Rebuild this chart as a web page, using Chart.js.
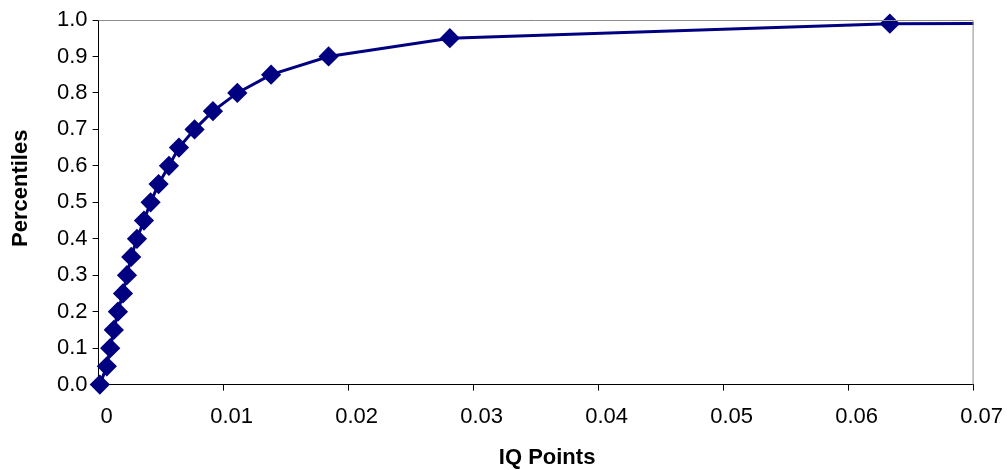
<!DOCTYPE html>
<html>
<head>
<meta charset="utf-8">
<script src="https://cdn.jsdelivr.net/npm/chart.js@4"></script>
<style>
  html, body { margin: 0; padding: 0; background: #fff; }
  #wrap { width: 1008px; height: 470px; }
</style>
</head>
<body>
<div id="wrap"><canvas id="myChart" width="1008" height="470"></canvas></div>
<script>
// IQ points (x) against percentiles (y)
var iqPoints = [0.0001, 0.00066, 0.00093, 0.00122, 0.00155, 0.00195, 0.00227, 0.00261, 0.00307,
                0.00363, 0.00416, 0.0048, 0.00563, 0.00643, 0.00768, 0.00915, 0.0111, 0.0138,
                0.0184, 0.0281, 0.0633, 0.2];
var percentiles = [0.0, 0.05, 0.10, 0.15, 0.20, 0.25, 0.30, 0.35, 0.40,
                   0.45, 0.50, 0.55, 0.60, 0.65, 0.70, 0.75, 0.80, 0.85,
                   0.90, 0.95, 0.99, 0.992];
var xTicks = [0, 0.01, 0.02, 0.03, 0.04, 0.05, 0.06, 0.07];
var yTicks = [0, 0.1, 0.2, 0.3, 0.4, 0.5, 0.6, 0.7, 0.8, 0.9, 1.0];
var xTitle = 'IQ Points';
var yTitle = 'Percentiles';

var points = iqPoints.map(function(x, i){ return {x: x, y: percentiles[i]}; });

// grey frame on top and right of plot area, plus the two axis titles
var extras = {
    id: 'extras',
    afterDraw: function(chart){
        var a = chart.chartArea, c = chart.ctx;
        c.save();
        c.strokeStyle = '#8c8c8c';
        c.lineWidth = 1;
        c.beginPath();
        c.moveTo(a.left, a.top + 0.5);
        c.lineTo(a.right - 0.5, a.top + 0.5);
        c.lineTo(a.right - 0.5, a.bottom);
        c.stroke();

        c.fillStyle = '#000';
        c.font = 'bold 22px "Liberation Sans", Arial, sans-serif';
        c.textAlign = 'center';
        c.textBaseline = 'middle';
        c.fillText(xTitle, (a.left + a.right) / 2 + 11, a.bottom + 73);
        c.translate(a.left - 78, (a.top + a.bottom) / 2 - 14);
        c.rotate(-Math.PI / 2);
        c.fillText(yTitle, 0, 0);
        c.restore();
    }
};

window.onload = function(){
    var ctx = document.getElementById('myChart').getContext('2d');
    Chart.defaults.font.family = '"Liberation Sans", Arial, sans-serif';
    Chart.defaults.color = '#000';
    window.myChart = new Chart(ctx, {
        type: 'scatter',
        data: {
            datasets: [{
                data: points,
                showLine: true,
                borderColor: '#000080',
                backgroundColor: '#000080',
                borderWidth: 3,
                pointStyle: 'rectRot',
                pointRadius: 8,
                pointHoverRadius: 8,
                clip: { left: 12, top: 12, right: 0, bottom: 12 }
            }]
        },
        options: {
            responsive: false,
            animation: false,
            layout: { padding: { top: 20, right: 34, left: 52, bottom: 27 } },
            plugins: { legend: { display: false }, tooltip: { enabled: false } },
            scales: {
                x: {
                    type: 'linear',
                    min: 0, max: 0.07,
                    afterBuildTicks: function(s){ s.ticks = xTicks.map(function(v){ return {value: v}; }); },
                    ticks: {
                        font: { size: 22 },
                        padding: 13,
                        labelOffset: 8,
                        maxRotation: 0,
                        callback: function(v){ return v === 0 ? '0' : String(+v.toFixed(2)); }
                    },
                    grid: { drawOnChartArea: false, tickLength: 6, color: '#000' },
                    border: { color: '#000', width: 1 }
                },
                y: {
                    min: 0, max: 1,
                    afterBuildTicks: function(s){ s.ticks = yTicks.map(function(v){ return {value: v}; }); },
                    ticks: {
                        font: { size: 22 },
                        padding: 5,
                        callback: function(v){ return v.toFixed(1); }
                    },
                    grid: { drawOnChartArea: false, tickLength: 6, color: '#000' },
                    border: { color: '#000', width: 1 }
                }
            }
        },
        plugins: [extras]
    });
};
</script>
</body>
</html>
